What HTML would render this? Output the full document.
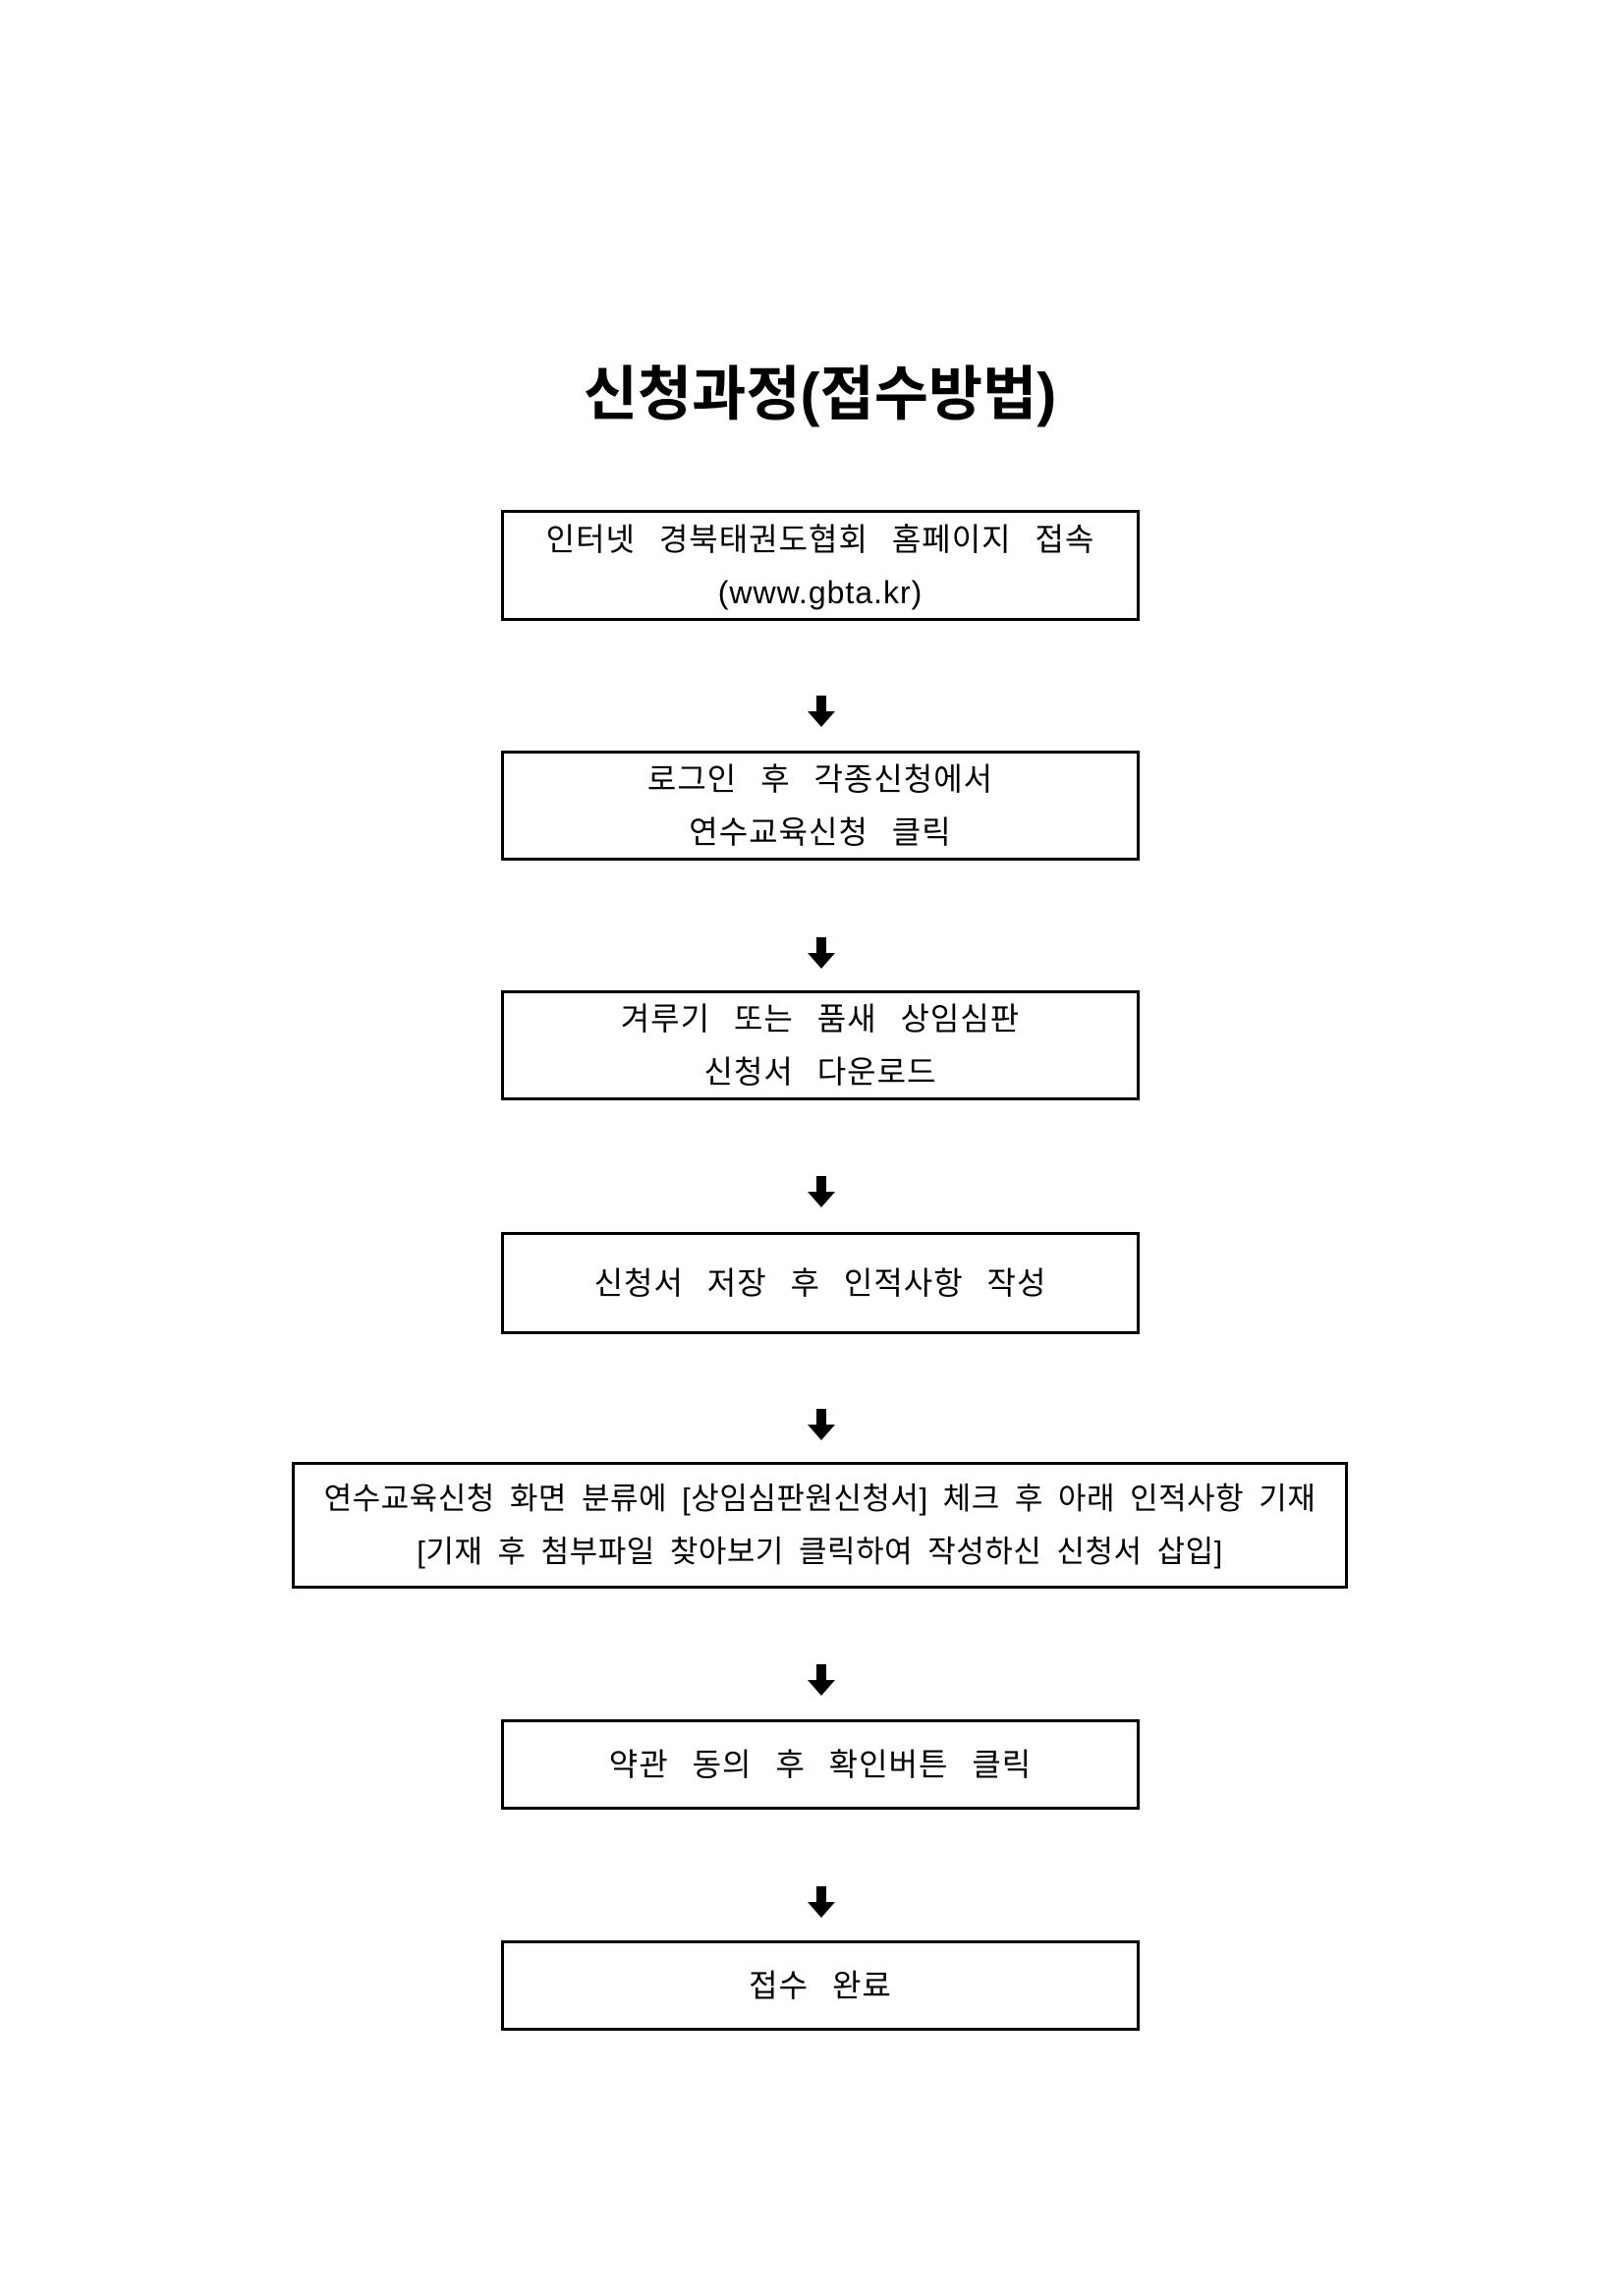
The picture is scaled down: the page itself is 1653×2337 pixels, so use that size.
<!DOCTYPE html>
<html><head><meta charset="utf-8"><style>
body{margin:0;width:1653px;height:2337px;background:#fff;position:relative;font-family:"Liberation Sans","Noto Sans CJK KR",sans-serif;color:#000}
.t{position:absolute;left:8px;width:1653px;top:367px;text-align:center;font-size:60px;font-weight:bold;line-height:70px;letter-spacing:0px}
.b{position:absolute;border:3px solid #000;box-sizing:border-box;display:flex;flex-direction:column;justify-content:center;align-items:center;font-size:32px;line-height:54px;word-spacing:14px;letter-spacing:1px;white-space:nowrap}
.a{position:absolute;left:836px;width:0;height:0}
.a:before{content:"";position:absolute;left:-5px;top:-16px;width:10px;height:16px;background:#000}
.a:after{content:"";position:absolute;left:-14px;top:0;border-left:14px solid transparent;border-right:14px solid transparent;border-top:16px solid #000}
</style></head><body>
<div class="t">신청과정(접수방법)</div>
<div class="b" style="left:510px;top:519px;width:650px;height:113px"><div>인터넷 경북태권도협회 홈페이지 접속</div><div>(www.gbta.kr)</div></div>
<div class="a" style="top:724px"></div>
<div class="b" style="left:510px;top:764px;width:650px;height:112px"><div>로그인 후 각종신청에서</div><div>연수교육신청 클릭</div></div>
<div class="a" style="top:970px"></div>
<div class="b" style="left:510px;top:1008px;width:650px;height:112px"><div>겨루기 또는 품새 상임심판</div><div>신청서 다운로드</div></div>
<div class="a" style="top:1213px"></div>
<div class="b" style="left:510px;top:1254px;width:650px;height:104px"><div>신청서 저장 후 인적사항 작성</div></div>
<div class="a" style="top:1450px"></div>
<div class="b" style="left:297px;top:1488px;width:1075px;height:129px;font-size:31px;letter-spacing:0.5px;word-spacing:6px"><div>연수교육신청 화면 분류에 [상임심판원신청서] 체크 후 아래 인적사항 기재</div><div>[기재 후 첨부파일 찾아보기 클릭하여 작성하신 신청서 삽입]</div></div>
<div class="a" style="top:1710px"></div>
<div class="b" style="left:510px;top:1750px;width:650px;height:92px"><div>약관 동의 후 확인버튼 클릭</div></div>
<div class="a" style="top:1936px"></div>
<div class="b" style="left:510px;top:1975px;width:650px;height:92px"><div>접수 완료</div></div>
</body></html>
